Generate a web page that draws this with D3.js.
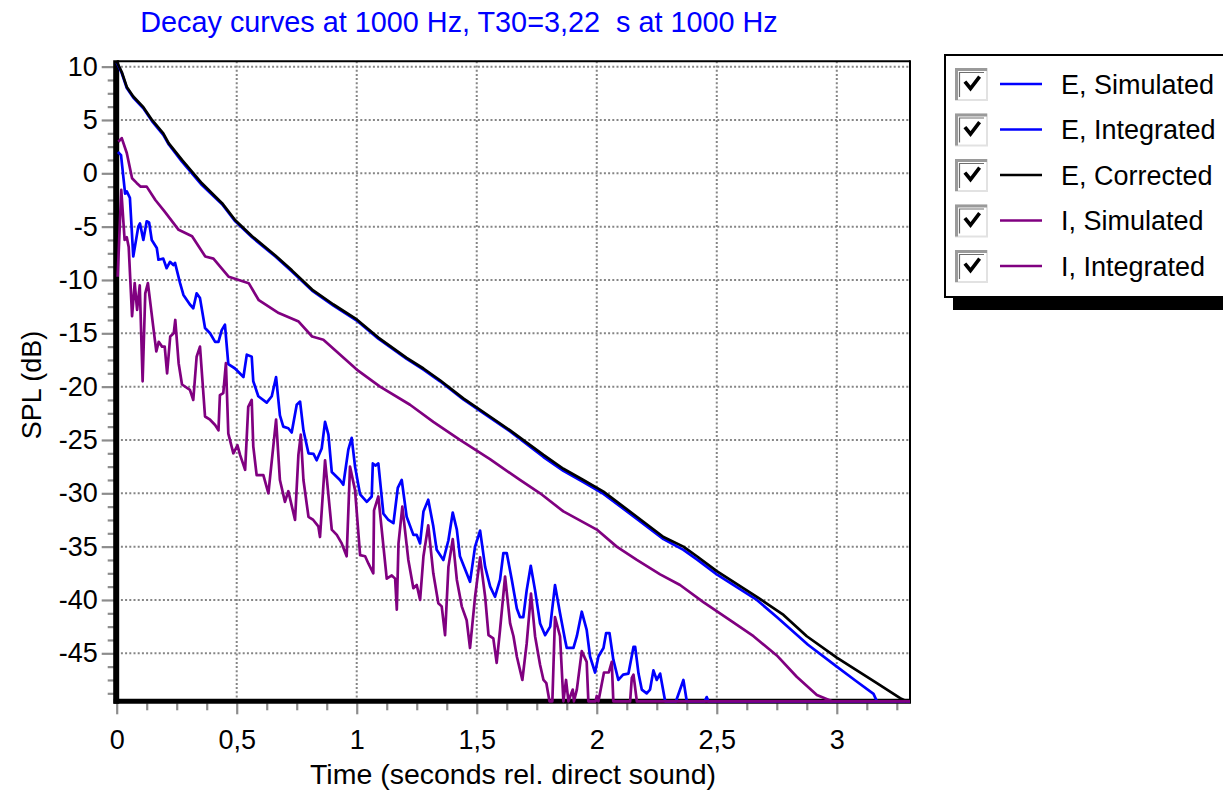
<!DOCTYPE html>
<html>
<head>
<meta charset="utf-8">
<script src="https://cdn.jsdelivr.net/npm/d3@7"></script>
<style>
  html, body { margin: 0; padding: 0; background: #fff; }
  svg { display: block; font-family: "Liberation Sans", Arial, sans-serif; }
  .pre { white-space: pre; }
</style>
</head>
<body>
<svg id="chart" width="1223" height="791"></svg>
<script>
// ---------------- DATA ----------------
const titleText = "Decay curves at 1000 Hz, T30=3,22  s at 1000 Hz";
const xTitle = "Time (seconds rel. direct sound)";
const yTitle = "SPL (dB)";

const xTicks = [0, 0.5, 1, 1.5, 2, 2.5, 3];
const xTickLabels = ["0", "0,5", "1", "1,5", "2", "2,5", "3"];
const yTicks = [10, 5, 0, -5, -10, -15, -20, -25, -30, -35, -40, -45];
const yTickLabels = ["10", "5", "0", "-5", "-10", "-15", "-20", "-25", "-30", "-35", "-40", "-45"];
const xDomain = [0, 3.305];
const yDomain = [-49.5, 10.5];

const seriesNames = ["E, Simulated", "E, Integrated", "E, Corrected", "I, Simulated", "I, Integrated"];
const seriesColors = ["#0000ff", "#0000ff", "#000000", "#800080", "#800080"];

// [time s, level dB]
const eSimulated = [
  [0.005, 2.0], [0.018, 1.7], [0.035, -1.9], [0.042, -1.7], [0.055, -2.3], [0.069, -7.8],
  [0.09, -5.0], [0.097, -4.7], [0.111, -6.25], [0.125, -4.5], [0.135, -4.6], [0.146, -6.25],
  [0.167, -7.0], [0.174, -8.1], [0.194, -8.0], [0.208, -8.9], [0.222, -8.3], [0.236, -8.6],
  [0.243, -8.4], [0.264, -10.3], [0.278, -11.4], [0.305, -12.3], [0.319, -12.65], [0.333, -11.25],
  [0.347, -11.7], [0.368, -14.5], [0.389, -15.0], [0.41, -15.8], [0.424, -15.8], [0.4375, -14.7],
  [0.451, -14.2], [0.465, -17.9], [0.493, -18.3], [0.528, -19.1], [0.542, -17.0], [0.5625, -17.2],
  [0.569, -19.5], [0.59, -20.9], [0.625, -21.5], [0.646, -20.9], [0.664, -19.1], [0.68, -22.7],
  [0.694, -23.75], [0.715, -23.9], [0.729, -24.3], [0.75, -21.7], [0.764, -21.4], [0.778, -24.1],
  [0.799, -26.25], [0.82, -26.3], [0.833, -26.9], [0.854, -25.8], [0.868, -23.3], [0.882, -24.5],
  [0.896, -28.0], [0.93, -28.75], [0.944, -29.2], [0.965, -25.9], [0.979, -24.8], [0.993, -27.5],
  [1.014, -30.1], [1.042, -30.8], [1.0625, -30.3], [1.067, -27.2], [1.078, -27.4], [1.09, -27.2],
  [1.111, -31.9], [1.132, -32.5], [1.153, -32.8], [1.171, -29.5], [1.1875, -28.75], [1.208, -32.2],
  [1.236, -33.9], [1.25, -33.9], [1.264, -34.7], [1.278, -31.7], [1.298, -30.6], [1.319, -33.1],
  [1.333, -35.3], [1.361, -36.25], [1.382, -34.4], [1.4, -31.8], [1.417, -33.4], [1.43, -35.9],
  [1.458, -37.5], [1.472, -38.3], [1.493, -35.0], [1.514, -33.5], [1.535, -36.9], [1.556, -38.75],
  [1.576, -39.7], [1.597, -38.1], [1.611, -35.6], [1.625, -35.6], [1.646, -38.1], [1.667, -40.8],
  [1.68, -41.6], [1.694, -41.6], [1.708, -39.1], [1.725, -36.8], [1.743, -39.1], [1.764, -42.2],
  [1.785, -43.3], [1.806, -42.5], [1.826, -38.6], [1.847, -41.25], [1.868, -43.75], [1.875, -44.5],
  [1.903, -44.5], [1.917, -43.4], [1.9375, -41.1], [1.958, -42.8], [1.972, -45.3], [1.993, -46.8],
  [2.007, -45.3], [2.028, -44.5], [2.039, -43.1], [2.053, -43.1], [2.069, -45.6], [2.09, -47.5],
  [2.11, -47.0], [2.132, -46.9], [2.153, -44.4], [2.16, -44.4], [2.174, -46.9], [2.1875, -48.4],
  [2.208, -48.75], [2.222, -48.4], [2.236, -46.6], [2.25, -47.5], [2.264, -46.9], [2.285, -49.5],
  [2.33, -49.5], [2.361, -47.5], [2.375, -49.5], [2.45, -49.5], [2.458, -49.1], [2.465, -49.5],
  [3.305, -49.5]
];

const eIntegrated = [
  [0.0, 10.4], [0.021, 9.4], [0.042, 8.0], [0.069, 7.1], [0.111, 6.1], [0.147, 4.9],
  [0.194, 3.6], [0.217, 2.7], [0.272, 1.1], [0.355, -1.1], [0.439, -2.9], [0.494, -4.5],
  [0.564, -6.0], [0.661, -7.8], [0.73, -9.2], [0.814, -11.0], [0.903, -12.4], [1.0, -13.8],
  [1.09, -15.5], [1.208, -17.4], [1.278, -18.4], [1.347, -19.5], [1.444, -21.2], [1.555, -22.9],
  [1.639, -24.2], [1.778, -26.6], [1.861, -27.9], [1.944, -28.95], [2.028, -30.05], [2.167, -32.4],
  [2.278, -34.3], [2.361, -35.3], [2.417, -36.2], [2.5, -37.6], [2.667, -40.0], [2.75, -41.6],
  [2.88, -44.2], [3.0, -46.25], [3.08, -47.6], [3.153, -48.8], [3.167, -49.5]
];

const eCorrected = [
  [0.0, 10.5], [0.021, 9.5], [0.042, 8.1], [0.069, 7.2], [0.111, 6.2], [0.147, 5.0],
  [0.194, 3.75], [0.217, 2.8], [0.272, 1.25], [0.355, -0.94], [0.439, -2.8], [0.494, -4.4],
  [0.564, -5.9], [0.661, -7.7], [0.73, -9.1], [0.814, -10.9], [0.903, -12.3], [1.0, -13.7],
  [1.09, -15.4], [1.208, -17.3], [1.278, -18.3], [1.347, -19.4], [1.444, -21.1], [1.555, -22.8],
  [1.639, -24.1], [1.778, -26.4], [1.861, -27.7], [1.944, -28.75], [2.028, -29.85], [2.167, -32.2],
  [2.278, -34.1], [2.361, -35.0], [2.417, -35.9], [2.5, -37.3], [2.667, -39.7], [2.778, -41.4],
  [2.875, -43.4], [3.0, -45.4], [3.167, -47.8], [3.264, -49.2], [3.29, -49.5]
];

const iSimulated = [
  [0.004, -9.7], [0.019, -1.56], [0.033, -6.25], [0.042, -6.0], [0.05, -6.9], [0.064, -13.4],
  [0.075, -10.3], [0.085, -12.8], [0.096, -10.5], [0.108, -19.5], [0.119, -11.25], [0.13, -10.3],
  [0.154, -14.7], [0.165, -16.7], [0.175, -15.8], [0.189, -16.25], [0.2, -16.25], [0.21, -18.75],
  [0.223, -15.3], [0.2375, -15.0], [0.244, -13.75], [0.258, -17.8], [0.272, -19.8], [0.305, -20.3],
  [0.319, -21.25], [0.333, -17.2], [0.347, -16.25], [0.368, -22.8], [0.389, -23.1], [0.41, -23.6],
  [0.424, -24.1], [0.43, -20.8], [0.444, -20.6], [0.455, -17.8], [0.465, -24.4], [0.486, -26.25],
  [0.503, -25.5], [0.514, -26.4], [0.535, -27.8], [0.548, -21.9], [0.5625, -21.25], [0.569, -25.6],
  [0.583, -28.3], [0.611, -28.3], [0.632, -30.0], [0.664, -23.1], [0.68, -28.75], [0.701, -30.8],
  [0.715, -29.8], [0.743, -32.5], [0.757, -26.4], [0.767, -24.5], [0.778, -28.75], [0.799, -32.2],
  [0.819, -32.5], [0.84, -33.1], [0.847, -34.1], [0.868, -26.9], [0.896, -33.4], [0.917, -33.9],
  [0.9375, -34.7], [0.958, -35.9], [0.972, -27.5], [0.993, -29.7], [1.014, -35.8], [1.035, -35.9],
  [1.049, -36.6], [1.069, -37.5], [1.072, -31.6], [1.09, -30.3], [1.125, -38.0], [1.146, -37.7],
  [1.16, -38.0], [1.167, -40.9], [1.174, -34.7], [1.19, -31.25], [1.215, -36.25], [1.236, -38.9],
  [1.25, -38.6], [1.264, -40.0], [1.278, -35.9], [1.298, -33.0], [1.319, -37.5], [1.34, -40.3],
  [1.354, -40.6], [1.368, -43.3], [1.382, -36.9], [1.4, -34.3], [1.417, -38.1], [1.4375, -40.6],
  [1.458, -41.9], [1.472, -44.5], [1.493, -39.7], [1.514, -36.0], [1.535, -39.7], [1.549, -43.3],
  [1.569, -43.6], [1.583, -45.9], [1.597, -42.8], [1.618, -37.8], [1.639, -42.2], [1.653, -43.4],
  [1.667, -45.3], [1.69, -47.5], [1.708, -44.1], [1.726, -39.4], [1.743, -43.4], [1.764, -46.1],
  [1.778, -47.5], [1.79, -47.8], [1.803, -49.5], [1.815, -49.5], [1.826, -41.6], [1.847, -43.4],
  [1.861, -49.5], [1.872, -47.5], [1.882, -49.5], [1.9, -48.4], [1.905, -49.5], [1.917, -48.4],
  [1.9375, -44.8], [1.958, -45.8], [1.965, -49.5], [1.995, -49.5], [2.0, -49.0], [2.007, -49.5],
  [2.03, -46.8], [2.05, -46.8], [2.0625, -45.8], [2.069, -49.5], [2.139, -49.5], [2.146, -47.3],
  [2.153, -47.0], [2.167, -49.5], [3.305, -49.5]
];

const iIntegrated = [
  [0.007, 2.96], [0.021, 3.3], [0.042, 1.9], [0.064, -0.47], [0.083, -0.9], [0.1, -1.25],
  [0.125, -1.25], [0.161, -2.5], [0.2, -3.6], [0.258, -5.3], [0.314, -5.9], [0.369, -7.8],
  [0.403, -8.0], [0.467, -9.7], [0.55, -10.3], [0.592, -11.9], [0.675, -13.1], [0.758, -13.9],
  [0.814, -15.3], [0.861, -15.6], [1.0, -18.4], [1.097, -20.0], [1.222, -21.7], [1.319, -23.3],
  [1.43, -25.0], [1.555, -26.8], [1.68, -28.75], [1.764, -30.0], [1.861, -31.7], [2.0, -33.4],
  [2.083, -35.0], [2.167, -36.25], [2.264, -37.6], [2.347, -38.6], [2.444, -40.2], [2.555, -41.9],
  [2.653, -43.4], [2.75, -45.2], [2.833, -47.2], [2.917, -48.9], [2.97, -49.4], [2.98, -49.5]
];

const seriesData = [eSimulated, eIntegrated, eCorrected, iSimulated, iIntegrated];

// ---------------- CHART ----------------
const svg = d3.select("#chart");
const plot = { left: 116.7, right: 910, top: 61.3, bottom: 701.3 };

const x = d3.scaleLinear().domain(xDomain).range([plot.left, plot.right]);
const y = d3.scaleLinear().domain(yDomain).range([plot.bottom, plot.top]);

const gridColor = "#858585";
const tickColor = "#8c8c8c";

// grid
svg.append("g").selectAll("line.hg").data(yTicks).join("line")
  .attr("x1", plot.left).attr("x2", plot.right)
  .attr("y1", d => y(d)).attr("y2", d => y(d))
  .attr("stroke", gridColor).attr("stroke-width", 2).attr("stroke-dasharray", "2,2.2");
svg.append("g").selectAll("line.vg").data(xTicks.filter(d => d > 0)).join("line")
  .attr("x1", d => x(d)).attr("x2", d => x(d))
  .attr("y1", plot.top).attr("y2", plot.bottom)
  .attr("stroke", gridColor).attr("stroke-width", 2).attr("stroke-dasharray", "2,2.2");

// minor ticks
const yMinor = d3.range(-48.75, 10.01, 1.25).filter(v => !yTicks.some(t => Math.abs(t - v) < 1e-6));
const xMinor = d3.range(0.125, 3.26, 0.125).filter(v => !xTicks.some(t => Math.abs(t - v) < 1e-6));

const yAxisMinor = svg.append("g").attr("transform", `translate(${plot.left - 2},0)`)
  .call(d3.axisLeft(y).tickValues(yMinor).tickSize(7).tickFormat(""));
const yAxisMajor = svg.append("g").attr("transform", `translate(${plot.left - 2},0)`)
  .call(d3.axisLeft(y).tickValues(yTicks).tickSize(13).tickPadding(4)
    .tickFormat((d, i) => yTickLabels[i]));
const xAxisMinor = svg.append("g").attr("transform", `translate(0,${plot.bottom + 2})`)
  .call(d3.axisBottom(x).tickValues(xMinor).tickSize(7).tickFormat(""));
const xAxisMajor = svg.append("g").attr("transform", `translate(0,${plot.bottom + 2})`)
  .call(d3.axisBottom(x).tickValues(xTicks).tickSize(11).tickPadding(16)
    .tickFormat((d, i) => xTickLabels[i]));

[yAxisMinor, yAxisMajor, xAxisMinor, xAxisMajor].forEach(g => {
  g.select(".domain").remove();
  g.selectAll(".tick line").attr("stroke", tickColor).attr("stroke-width", 2.2);
  g.selectAll(".tick text").attr("fill", "#000").attr("font-size", 27)
    .attr("font-family", "'Liberation Sans', Arial, sans-serif");
});

// frame
svg.append("line").attr("x1", plot.left).attr("x2", plot.right)
  .attr("y1", plot.top).attr("y2", plot.top).attr("stroke", "#000").attr("stroke-width", 2);
svg.append("line").attr("x1", plot.right).attr("x2", plot.right)
  .attr("y1", plot.top - 1).attr("y2", plot.bottom).attr("stroke", "#000").attr("stroke-width", 2);
svg.append("line").attr("x1", plot.left - 3).attr("x2", plot.right + 1)
  .attr("y1", plot.bottom).attr("y2", plot.bottom).attr("stroke", "#000").attr("stroke-width", 5);
svg.append("line").attr("x1", plot.left - 0.5).attr("x2", plot.left - 0.5)
  .attr("y1", plot.top - 1).attr("y2", plot.bottom + 2.5).attr("stroke", "#000").attr("stroke-width", 6);

// lines
const line = d3.line().x(d => x(d[0])).y(d => y(d[1]));
svg.append("g").selectAll("path").data(seriesData).join("path")
  .attr("d", d => line(d))
  .attr("fill", "none")
  .attr("stroke", (d, i) => seriesColors[i])
  .attr("stroke-width", 2.7)
  .attr("stroke-linejoin", "round");

// title
svg.append("text").attr("class", "pre").attr("xml:space", "preserve")
  .attr("x", 459).attr("y", 32).attr("text-anchor", "middle")
  .attr("font-size", 28.8).attr("fill", "#0000ff").text(titleText);

// axis titles
svg.append("text").attr("x", 513).attr("y", 784).attr("text-anchor", "middle")
  .attr("font-size", 28.5).attr("fill", "#000").text(xTitle);
svg.append("text").attr("transform", "translate(41,385) rotate(-90)").attr("text-anchor", "middle")
  .attr("font-size", 27).attr("fill", "#000").text(yTitle);

// legend
const lg = svg.append("g");
lg.append("rect").attr("x", 953).attr("y", 68).attr("width", 300).attr("height", 242).attr("fill", "#000");
lg.append("rect").attr("x", 945).attr("y", 55).attr("width", 300).attr("height", 242)
  .attr("fill", "#fff").attr("stroke", "#000").attr("stroke-width", 2);

const rowY = d3.range(seriesNames.length).map(i => 84 + i * 45.5);
const items = lg.selectAll("g.item").data(seriesNames).join("g")
  .attr("transform", (d, i) => `translate(0,${rowY[i]})`);
// checkbox
items.append("rect").attr("x", 956).attr("y", -15).attr("width", 31).attr("height", 31)
  .attr("fill", "#fff").attr("stroke", "#e2e2e2").attr("stroke-width", 2);
items.append("path").attr("d", "M956.5,16 L956.5,-14.5 L987,-14.5")
  .attr("fill", "none").attr("stroke", "#9a9a9a").attr("stroke-width", 3);
items.append("path").attr("d", "M959.5,13 L959.5,-11.5 L984,-11.5")
  .attr("fill", "none").attr("stroke", "#6e6e6e").attr("stroke-width", 1.2);
items.append("path").attr("d", "M966,-1 L970.5,4.5 L978.5,-6")
  .attr("fill", "none").attr("stroke", "#000").attr("stroke-width", 3.6)
  .attr("stroke-linecap", "square");
items.append("line").attr("x1", 1000).attr("x2", 1042).attr("y1", 0).attr("y2", 0)
  .attr("stroke", (d, i) => seriesColors[i]).attr("stroke-width", 2.4);
items.append("text").attr("x", 1061).attr("y", 9.5).attr("font-size", 27).attr("fill", "#000")
  .text(d => d);
</script>
</body>
</html>
